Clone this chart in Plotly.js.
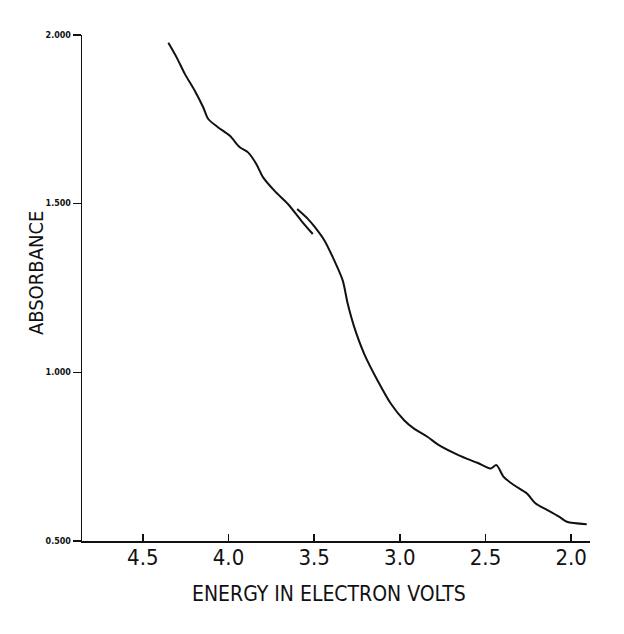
<!DOCTYPE html>
<html>
<head>
<meta charset="utf-8">
<script src="https://cdn.plot.ly/plotly-3.0.1.min.js"></script>
<style>html,body{margin:0;padding:0;background:#fff;}#chart{width:624px;height:634px;}</style>
</head>
<body>
<div id="chart"></div>
<script>
// Upper segment of the trace (energy in eV, absorbance)
const energyUpper = [4.351, 4.302, 4.254, 4.196, 4.147, 4.118, 4.060, 3.992, 3.934, 3.886, 3.837, 3.798, 3.731, 3.653, 3.576, 3.508];
const absorbUpper = [1.977, 1.933, 1.884, 1.834, 1.785, 1.751, 1.726, 1.701, 1.667, 1.652, 1.617, 1.578, 1.538, 1.499, 1.450, 1.410];
// Lower (overlapping) segment of the trace
const energyLower = [3.599, 3.537, 3.498, 3.440, 3.382, 3.333, 3.304, 3.266, 3.208, 3.130, 3.052, 2.975, 2.917, 2.839, 2.772, 2.655, 2.548, 2.471, 2.436, 2.394, 2.335, 2.258, 2.209, 2.141, 2.064, 2.025, 1.909];
const absorbLower = [1.484, 1.455, 1.432, 1.391, 1.331, 1.272, 1.203, 1.134, 1.055, 0.976, 0.907, 0.858, 0.833, 0.809, 0.784, 0.754, 0.732, 0.715, 0.725, 0.690, 0.666, 0.641, 0.612, 0.592, 0.570, 0.557, 0.550];

const xTickVals = [4.5, 4.0, 3.5, 3.0, 2.5, 2.0];
const xTickText = ["4.5", "4.0", "3.5", "3.0", "2.5", "2.0"];
const yTickVals = [0.5, 1.0, 1.5, 2.0];
const yTickText = ["0.500", "1.000", "1.500", "2.000"];

const lineStyle = {color: '#111', width: 2, shape: 'spline', smoothing: 0.8};
const traces = [
  {x: energyUpper, y: absorbUpper, mode: 'lines', line: lineStyle, hoverinfo: 'skip'},
  {x: energyLower, y: absorbLower, mode: 'lines', line: lineStyle, hoverinfo: 'skip'}
];

const handFont = 'Liberation Sans Narrow, DejaVu Sans Condensed, Roboto, sans-serif';
const layout = {
  width: 624, height: 634,
  margin: {l: 82, r: 34, t: 35, b: 93},
  paper_bgcolor: '#fff', plot_bgcolor: '#fff',
  showlegend: false,
  xaxis: {
    range: [4.855, 1.89],
    tickvals: xTickVals, ticktext: xTickText,
    ticks: 'inside', ticklen: 7, tickwidth: 1.5, tickcolor: '#111',
    ticklabelstandoff: -4,
    showline: true, linecolor: '#111', linewidth: 1.5,
    showgrid: false, zeroline: false,
    tickfont: {family: handFont, size: 22, color: '#111'}
  },
  yaxis: {
    range: [0.5, 2.0],
    tickvals: yTickVals, ticktext: yTickText,
    ticks: 'outside', ticklen: 8, tickwidth: 1.5, tickcolor: '#111',
    showline: true, linecolor: '#111', linewidth: 1.5,
    showgrid: false, zeroline: false,
    tickfont: {family: 'DejaVu Sans', size: 8, color: '#111', weight: 'bold'}
  },
  annotations: [
    {text: 'ENERGY IN ELECTRON VOLTS', xref: 'paper', yref: 'paper', x: 0.487, y: -0.105,
     xanchor: 'center', yanchor: 'middle', showarrow: false,
     font: {family: handFont, size: 21, color: '#111'}},
    {text: 'ABSORBANCE', xref: 'paper', yref: 'paper', x: -0.09, y: 0.53,
     xanchor: 'center', yanchor: 'middle', textangle: -90, showarrow: false,
     font: {family: handFont, size: 20, color: '#111'}}
  ]
};

Plotly.newPlot('chart', traces, layout, {displayModeBar: false, staticPlot: true});
</script>
</body>
</html>
